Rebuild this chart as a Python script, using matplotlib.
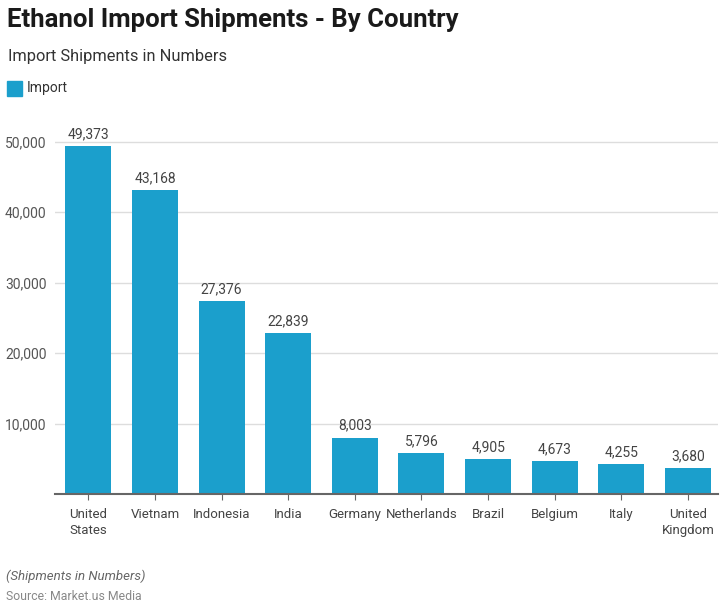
import numpy as np
import matplotlib.pyplot as plt

plt.rcParams['font.family'] = ['Roboto', 'DejaVu Sans']

countries = ["United\nStates", "Vietnam", "Indonesia", "India", "Germany",
             "Netherlands", "Brazil", "Belgium", "Italy", "United\nKingdom"]
imports = [49373, 43168, 27376, 22839, 8003, 5796, 4905, 4673, 4255, 3680]
yticks = [10000, 20000, 30000, 40000, 50000]

bar_color = "#1b9fcc"

fig = plt.figure(figsize=(7.2, 6.12), dpi=100)
W, H = 720, 612
# axes placed in pixel terms: left 55, right 718, bottom at y=494, top at y=120
ax = fig.add_axes([55 / W, 1 - 494 / H, (718 - 55) / W, (494 - 120) / H])

x = np.arange(len(countries))
ax.bar(x, imports, width=0.69, color=bar_color, zorder=3)

for xi, v in zip(x, imports):
    ax.text(xi, v + 700, f"{v:,}", ha="center", va="bottom",
            fontsize=10, color="#444444")

ax.set_xlim(-0.5, 9.45)
ax.set_ylim(0, 53100)
ax.set_yticks(yticks)
ax.set_yticklabels([f"{t:,}" for t in yticks], fontsize=10, color="#555555")
ax.set_xticks(x)
ax.set_xticklabels(countries, fontsize=9.5, color="#444444", linespacing=1.3)
ax.yaxis.grid(True, color="#dddddd", linewidth=1, zorder=0)
ax.tick_params(axis="y", length=0, pad=6)
ax.tick_params(axis="x", length=4, color="#666666", pad=6)

for side in ["top", "right", "left"]:
    ax.spines[side].set_visible(False)
ax.spines["bottom"].set_color("#666666")
ax.spines["bottom"].set_linewidth(1.5)
ax.spines["bottom"].set_zorder(4)

fig.text(7 / W, 1 - 20 / H, "Ethanol Import Shipments - By Country",
         fontsize=18.5, fontweight="bold", color="#1a1a1a", va="center")
fig.text(8 / W, 1 - 57 / H, "Import Shipments in Numbers",
         fontsize=11.8, color="#333333", va="center")
fig.patches.append(plt.Rectangle((7 / W, 1 - 96 / H), 15 / W, 15 / H,
                                 transform=fig.transFigure, color=bar_color))
fig.text(27 / W, 1 - 88 / H, "Import", fontsize=10, color="#333333", va="center")
fig.text(6 / W, 1 - 576 / H, "(Shipments in Numbers)", fontsize=9.5,
         style="italic", color="#666666", va="center")
fig.text(6 / W, 1 - 597 / H, "Source: Market.us Media", fontsize=8.8,
         color="#888888", va="center")

fig.savefig("out.png", dpi=100)
